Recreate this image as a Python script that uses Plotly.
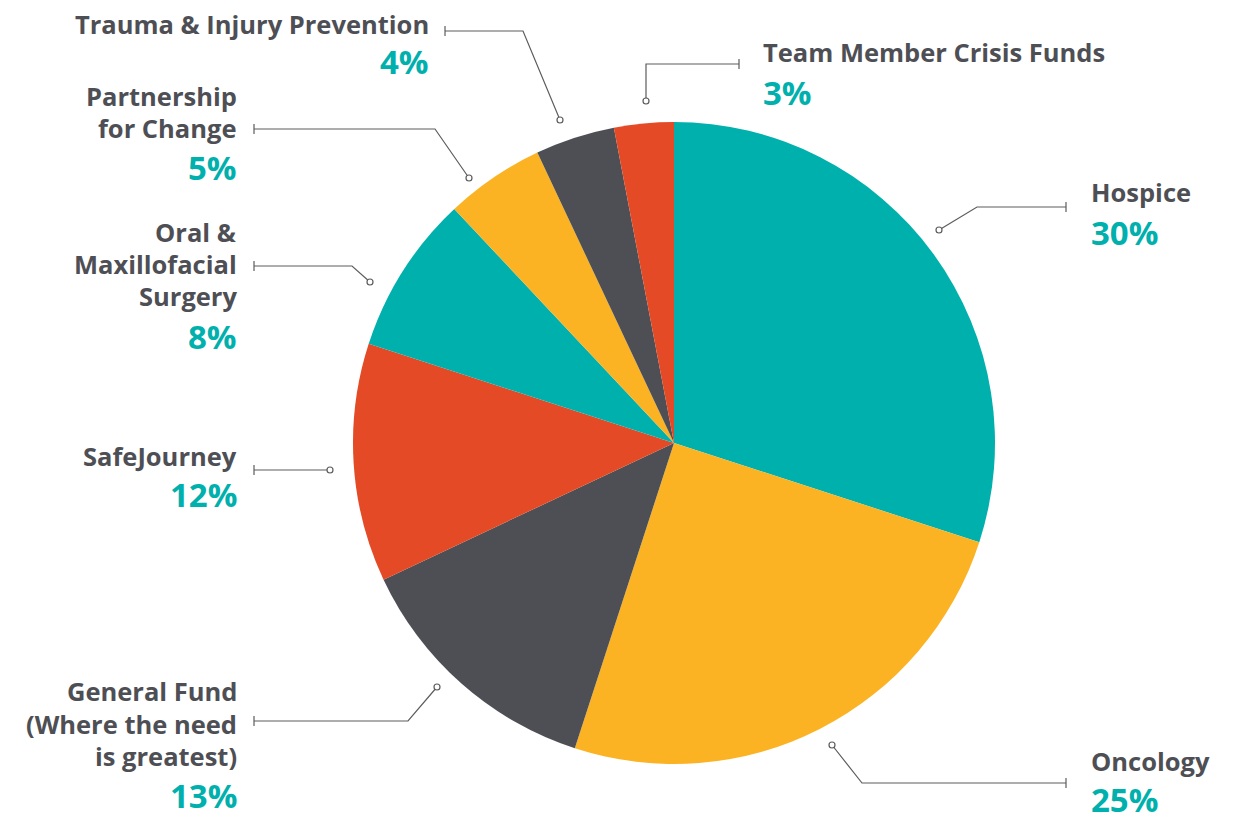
import plotly.graph_objects as go

# ---- data ----
categories = ["Hospice", "Oncology", "General Fund (Where the need is greatest)", "SafeJourney",
              "Oral & Maxillofacial Surgery", "Partnership for Change",
              "Trauma & Injury Prevention", "Team Member Crisis Funds"]
values = [30, 25, 13, 12, 8, 5, 4, 3]
label_lines = [["Hospice"], ["Oncology"], ["General Fund", "(Where the need", "is greatest)"],
               ["SafeJourney"], ["Oral &", "Maxillofacial", "Surgery"],
               ["Partnership", "for Change"], ["Trauma & Injury Prevention"],
               ["Team Member Crisis Funds"]]

# ---- styles ----
TEAL = "#00B0AD"
YELLOW = "#FBB323"
GRAY = "#4E4F55"
RED = "#E34A25"
slice_colors = [TEAL, YELLOW, GRAY, RED, TEAL, YELLOW, GRAY, RED]
TEXT = "#4E4F55"
LINE = "#5c5c5c"
FONT = "Open Sans"

# page is placed with an 8px body margin
OFF = 8
W, H = 1233 - OFF, 821 - OFF
cx, cy, r = 674, 443, 321

def px(x):
    return (x - OFF) / W

def py(y):
    return 1 - (y - OFF) / H

# label layout: (x, anchor, first-line y, line step, percent y)
label_pos = [
    (1090, "left", 192, 32, 232),
    (1090, "left", 761, 32, 799),
    (238, "right", 691, 32.5, 795),
    (238, "right", 456, 32, 494),
    (238, "right", 232, 32, 336),
    (238, "right", 96, 32, 167),
    (430, "right", 24, 32, 61),
    (762, "left", 52, 32, 92),
]
# leader paths (pixel) : tick end first, dot last
leaders = [
    [(1066, 207), (977, 207), (939, 230)],
    [(1066, 783), (862, 783), (832, 745)],
    [(254, 721), (408, 721), (437, 687)],
    [(254, 470), (330, 470)],
    [(254, 266), (352, 266), (370, 282)],
    [(254, 129), (435, 129), (469, 178)],
    [(445, 31), (523, 31), (560, 120)],
    [(739, 64), (646, 64), (646, 101)],
]

fig = go.Figure(go.Pie(
    labels=categories, values=values, sort=False, direction="clockwise", rotation=0,
    marker=dict(colors=slice_colors, line=dict(width=0)),
    textinfo="none", showlegend=False,
    domain=dict(x=[px(cx - r), px(cx + r)], y=[py(cy + r), py(cy - r)]),
))

annotations = []
shapes = []
for lines, val, (x, anch, y0, step, ypct), path in zip(label_lines, values, label_pos, leaders):
    for i, t in enumerate(lines):
        annotations.append(dict(x=px(x), y=py(y0 + i * step), xref="paper", yref="paper",
                                text=f"<b>{t}</b>", showarrow=False, xanchor=anch, yanchor="middle",
                                borderpad=0,
                                font=dict(family=FONT, size=25.5, color=TEXT)))
    annotations.append(dict(x=px(x), y=py(ypct), xref="paper", yref="paper",
                            text=f"<b>{val}%</b>", showarrow=False, xanchor=anch, yanchor="middle",
                            borderpad=0,
                            font=dict(family=FONT, size=33, color=TEAL)))
    # leader line
    d = "M " + " L ".join(f"{px(a)},{py(b)}" for a, b in path)
    shapes.append(dict(type="path", path=d, xref="paper", yref="paper",
                       line=dict(color=LINE, width=1.2)))
    # tick at the label end
    tx, ty = path[0]
    shapes.append(dict(type="line", xref="paper", yref="paper",
                       x0=px(tx), x1=px(tx), y0=py(ty - 5), y1=py(ty + 5),
                       line=dict(color=LINE, width=1.2)))
    # dot at the pie end
    dx, dy = path[-1]
    shapes.append(dict(type="circle", xref="paper", yref="paper",
                       x0=px(dx - 3), x1=px(dx + 3), y0=py(dy + 3), y1=py(dy - 3),
                       line=dict(color=LINE, width=1.2), fillcolor="white"))

fig.update_layout(width=W, height=H, margin=dict(l=0, r=0, t=0, b=0),
                  paper_bgcolor="white", plot_bgcolor="white",
                  annotations=annotations, shapes=shapes)

fig.write_html("out.html")
